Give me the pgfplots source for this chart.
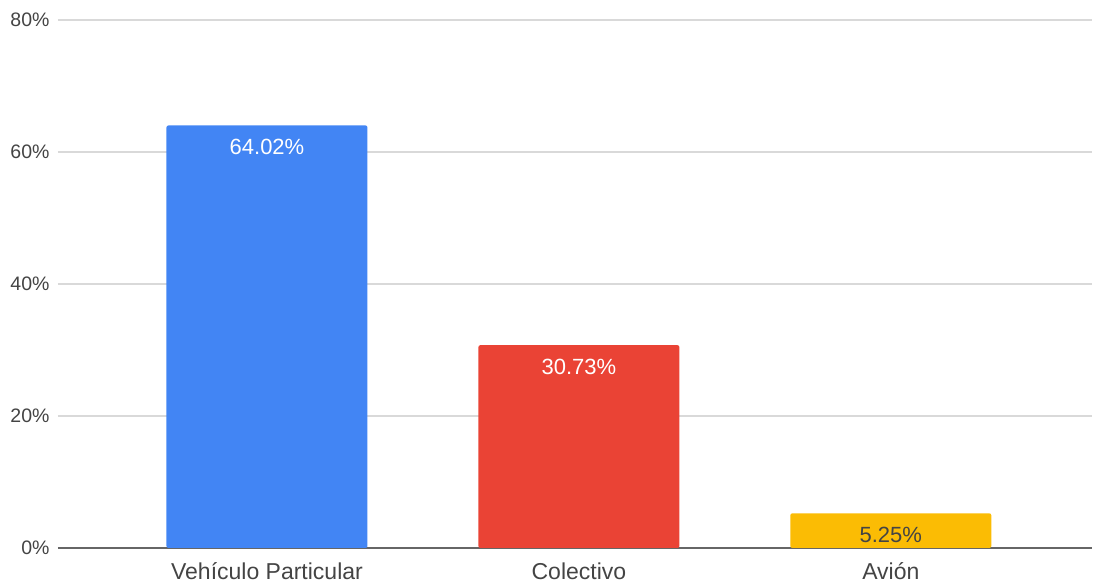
\documentclass[border=0pt]{standalone}
\usepackage{fontspec}
\setmainfont{Liberation Sans}
\usepackage{pgfplots}
\pgfplotsset{compat=1.18}
\usetikzlibrary{calc}

\definecolor{gblue}{HTML}{4285F4}
\definecolor{gred}{HTML}{EA4335}
\definecolor{gyellow}{HTML}{FBBC04}
\definecolor{txtgray}{HTML}{444444}
\definecolor{gridgray}{HTML}{D9D9D9}
\definecolor{axgray}{HTML}{666666}

\begin{document}
\begin{tikzpicture}
\begin{axis}[
    name=ax,
    scale only axis,
    width=1034pt, height=528pt,
    ybar, bar width=201pt, bar shift=0pt,
    xmin=-0.67, xmax=2.645,
    ymin=0, ymax=80,
    xtick={0,1,2},
    xticklabels={Vehículo Particular, Colectivo, Avión},
    ytick={0,20,40,60,80},
    yticklabel={\pgfmathprintnumber{\tick}\%},
    /pgf/number format/assume math mode=true,
    major tick length=0pt,
    axis x line*=bottom, axis y line*=left,
    y axis line style={draw=none},
    x axis line style={-, draw=axgray, line width=1.6pt},
    ymajorgrids, grid style={gridgray, line width=1.2pt},
    xticklabel style={font=\fontsize{23}{26}\selectfont, text=txtgray, yshift=-11pt},
    yticklabel style={font=\fontsize{19.5}{22}\selectfont, text=txtgray, xshift=-5pt},
    nodes near coords={\pgfmathprintnumber[fixed,precision=2,zerofill]{\pgfplotspointmeta}\%},
    every node near coord/.append style={anchor=north, yshift=-10pt, font=\fontsize{22}{25}\selectfont},
    clip=false,
]
\addplot[fill=gblue, draw=none, rounded corners=2pt, nodes near coords style={text=white}] coordinates {(0,64.02)};
\addplot[fill=gred, draw=none, rounded corners=2pt, nodes near coords style={text=white}] coordinates {(1,30.73)};
\addplot[fill=gyellow, draw=none, rounded corners=2pt, nodes near coords style={text=txtgray}] coordinates {(2,5.25)};
\end{axis}
\path ($(ax.south west)+(-58pt,-38pt)$) rectangle ($(ax.north east)+(2pt,20pt)$);
\end{tikzpicture}
\end{document}
